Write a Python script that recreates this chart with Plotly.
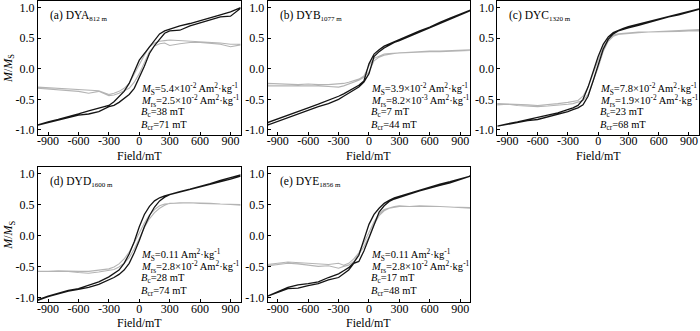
import plotly.graph_objects as go

# ---------------- data ----------------
FIELD_DESC = [1000, 900, 800, 700, 600, 500, 400, 300, 250, 200, 150, 100, 50, 0,
              -50, -100, -150, -200, -250, -300, -400, -500, -600, -700, -800, -900, -1000]
FIELD_ASC = FIELD_DESC[::-1]

# (a) DYA 812 m
A_BLACK_UP = [1.00, 0.93, 0.88, 0.83, 0.78, 0.74, 0.70, 0.65, 0.62, 0.57, 0.46, 0.36, 0.26, 0.14,
              -0.05, -0.24, -0.37, -0.46, -0.54, -0.60, -0.64, -0.69, -0.74, -0.79, -0.83, -0.87, -0.91]
A_BLACK_LO = [-0.92, -0.88, -0.84, -0.80, -0.76, -0.74, -0.70, -0.62, -0.60, -0.55, -0.49, -0.42, -0.32, -0.15,
              0.04, 0.25, 0.38, 0.48, 0.58, 0.62, 0.63, 0.70, 0.75, 0.80, 0.85, 0.86, 0.99]
A_GRAY_UP = [0.40, 0.40, 0.42, 0.43, 0.44, 0.44, 0.45, 0.47, 0.46, 0.45, 0.42, 0.36, 0.22, 0.06,
             -0.10, -0.24, -0.32, -0.37, -0.40, -0.42, -0.36, -0.35, -0.34, -0.33, -0.32, -0.31, -0.30]
A_GRAY_LO = [-0.32, -0.33, -0.34, -0.35, -0.37, -0.40, -0.37, -0.44, -0.43, -0.40, -0.36, -0.32, -0.22, -0.08,
             0.10, 0.28, 0.37, 0.41, 0.42, 0.38, 0.41, 0.43, 0.43, 0.42, 0.40, 0.36, 0.39]

# (b) DYB 1077 m
B_BLACK_UP = [0.96, 0.90, 0.83, 0.76, 0.68, 0.62, 0.55, 0.48, 0.45, 0.41, 0.37, 0.31, 0.24, 0.08,
              -0.20, -0.27, -0.32, -0.37, -0.41, -0.45, -0.52, -0.58, -0.64, -0.70, -0.76, -0.82, -0.88]
B_BLACK_LO = [-0.92, -0.86, -0.80, -0.74, -0.67, -0.62, -0.57, -0.50, -0.45, -0.40, -0.35, -0.30, -0.22, -0.08,
              0.20, 0.28, 0.34, 0.39, 0.43, 0.46, 0.53, 0.60, 0.67, 0.74, 0.81, 0.88, 0.95]
B_GRAY_UP = [0.31, 0.30, 0.30, 0.29, 0.29, 0.28, 0.28, 0.27, 0.26, 0.25, 0.24, 0.21, 0.17, 0.05,
             -0.12, -0.17, -0.20, -0.22, -0.24, -0.25, -0.26, -0.26, -0.25, -0.26, -0.25, -0.24, -0.24]
B_GRAY_LO = [-0.28, -0.28, -0.27, -0.27, -0.27, -0.28, -0.29, -0.30, -0.28, -0.25, -0.22, -0.19, -0.14, -0.05,
             0.13, 0.19, 0.22, 0.24, 0.25, 0.26, 0.27, 0.27, 0.28, 0.28, 0.29, 0.30, 0.30]

# (c) DYC 1320 m
C_BLACK_UP = [0.98, 0.94, 0.90, 0.86, 0.82, 0.78, 0.73, 0.69, 0.66, 0.63, 0.59, 0.52, 0.40, 0.20,
              -0.05, -0.30, -0.50, -0.60, -0.64, -0.67, -0.72, -0.76, -0.80, -0.84, -0.87, -0.90, -0.93]
C_BLACK_LO = [-0.94, -0.90, -0.88, -0.85, -0.83, -0.79, -0.75, -0.70, -0.67, -0.64, -0.59, -0.45, -0.20, 0.05,
              0.32, 0.48, 0.57, 0.62, 0.65, 0.67, 0.71, 0.76, 0.80, 0.85, 0.88, 0.92, 0.97]
C_GRAY_UP = [0.64, 0.63, 0.62, 0.61, 0.61, 0.60, 0.60, 0.59, 0.58, 0.57, 0.55, 0.48, 0.35, 0.15,
             -0.08, -0.30, -0.45, -0.52, -0.54, -0.55, -0.57, -0.59, -0.60, -0.59, -0.58, -0.58, -0.57]
C_GRAY_LO = [-0.59, -0.58, -0.60, -0.61, -0.62, -0.61, -0.60, -0.58, -0.57, -0.55, -0.52, -0.42, -0.20, 0.02,
             0.28, 0.45, 0.53, 0.56, 0.57, 0.58, 0.59, 0.60, 0.60, 0.61, 0.61, 0.62, 0.62]

# (d) DYD 1600 m
D_BLACK_UP = [0.98, 0.94, 0.89, 0.84, 0.79, 0.75, 0.71, 0.67, 0.64, 0.61, 0.56, 0.47, 0.34, 0.14,
              -0.10, -0.30, -0.45, -0.56, -0.62, -0.67, -0.75, -0.81, -0.86, -0.89, -0.93, -0.98, -1.04]
D_BLACK_LO = [-1.05, -0.99, -0.94, -0.90, -0.87, -0.84, -0.79, -0.72, -0.68, -0.63, -0.56, -0.45, -0.28, -0.08,
              0.14, 0.32, 0.46, 0.56, 0.62, 0.66, 0.70, 0.74, 0.78, 0.83, 0.87, 0.91, 0.96]
D_GRAY_UP = [0.50, 0.50, 0.51, 0.52, 0.53, 0.53, 0.53, 0.52, 0.51, 0.48, 0.42, 0.33, 0.20, 0.04,
             -0.12, -0.27, -0.38, -0.46, -0.51, -0.54, -0.56, -0.58, -0.58, -0.57, -0.57, -0.58, -0.58]
D_GRAY_LO = [-0.59, -0.58, -0.58, -0.58, -0.60, -0.61, -0.59, -0.57, -0.55, -0.51, -0.45, -0.36, -0.22, -0.05,
             0.13, 0.27, 0.37, 0.44, 0.49, 0.52, 0.53, 0.53, 0.52, 0.52, 0.51, 0.50, 0.49]

# (e) DYE 1856 m
E_BLACK_UP = [0.96, 0.91, 0.87, 0.83, 0.78, 0.74, 0.69, 0.64, 0.61, 0.57, 0.52, 0.44, 0.34, 0.18,
              -0.08, -0.32, -0.44, -0.52, -0.57, -0.62, -0.68, -0.75, -0.78, -0.80, -0.84, -0.91, -0.98]
E_BLACK_LO = [-0.98, -0.92, -0.86, -0.85, -0.81, -0.78, -0.72, -0.68, -0.62, -0.56, -0.45, -0.42, -0.25, -0.05,
              0.18, 0.38, 0.48, 0.55, 0.59, 0.62, 0.67, 0.72, 0.77, 0.81, 0.85, 0.90, 0.96]
E_GRAY_UP = [0.45, 0.45, 0.46, 0.47, 0.48, 0.48, 0.47, 0.48, 0.47, 0.45, 0.42, 0.35, 0.22, 0.05,
             -0.12, -0.28, -0.38, -0.45, -0.48, -0.45, -0.47, -0.46, -0.44, -0.43, -0.43, -0.45, -0.47]
E_GRAY_LO = [-0.49, -0.47, -0.45, -0.46, -0.48, -0.50, -0.49, -0.53, -0.50, -0.48, -0.42, -0.30, -0.18, -0.02,
             0.18, 0.32, 0.40, 0.44, 0.46, 0.47, 0.47, 0.47, 0.48, 0.47, 0.46, 0.45, 0.44]

PANEL_NAMES = ["(a) DYA", "(b) DYB", "(c) DYC", "(d) DYD", "(e) DYE"]
PANEL_DEPTHS = ["812 m", "1077 m", "1320 m", "1600 m", "1856 m"]
MS_TEXT = ["5.4×10<sup>-2</sup>", "3.9×10<sup>-2</sup>", "7.8×10<sup>-2</sup>", "0.11", "0.11"]
MRS_TEXT = ["2.5×10<sup>-2</sup>", "8.2×10<sup>-3</sup>", "1.9×10<sup>-2</sup>", "2.8×10<sup>-2</sup>", "2.8×10<sup>-2</sup>"]
BC_VALUES = [38, 7, 23, 28, 17]
BCR_VALUES = [71, 44, 68, 74, 48]

X_TICKS = [-900, -600, -300, 0, 300, 600, 900]
Y_TICKS = [-1.0, -0.5, 0.0, 0.5, 1.0]

PANELS = [
    (A_BLACK_UP, A_BLACK_LO, A_GRAY_UP, A_GRAY_LO),
    (B_BLACK_UP, B_BLACK_LO, B_GRAY_UP, B_GRAY_LO),
    (C_BLACK_UP, C_BLACK_LO, C_GRAY_UP, C_GRAY_LO),
    (D_BLACK_UP, D_BLACK_LO, D_GRAY_UP, D_GRAY_LO),
    (E_BLACK_UP, E_BLACK_LO, E_GRAY_UP, E_GRAY_LO),
]

# ---------------- layout ----------------
W, H = 700, 331
FONT = "Liberation Serif, Times New Roman, serif"
BLACK = "#151515"
GRAY = "#b4b4b4"

col_px = [(37, 240), (267, 470), (497, 699)]
row_px = [(0.5, 135), (168, 304)]

fig = go.Figure()
layout = dict(
    width=W, height=H,
    margin=dict(l=0, r=0, t=0, b=0),
    paper_bgcolor="white", plot_bgcolor="white",
    showlegend=False,
    font=dict(family=FONT, size=12, color="black"),
)

annotations = []
for i, (bu, bl, gu, gl) in enumerate(PANELS):
    r, c = divmod(i, 3)
    idx = "" if i == 0 else str(i + 1)
    xa, ya = "x" + idx, "y" + idx
    x0, x1 = col_px[c]
    y0, y1 = row_px[r]
    layout["xaxis" + idx] = dict(
        domain=[x0 / W, x1 / W], range=[-1000, 1000], anchor=ya,
        tickvals=X_TICKS, ticktext=[str(v) for v in X_TICKS],
        ticks="inside", ticklen=3, tickcolor="black", tickwidth=1,
        ticklabelstandoff=-5,
        showline=True, linecolor="black", linewidth=1, mirror=True,
        showgrid=False, zeroline=False, tickfont=dict(family=FONT, size=12),
    )
    layout["yaxis" + idx] = dict(
        domain=[1 - y1 / H, 1 - y0 / H], range=[-1.08, 1.1], anchor=xa,
        tickvals=Y_TICKS, ticktext=["%.1f" % v for v in Y_TICKS],
        ticks="inside", ticklen=3, tickcolor="black", tickwidth=1,
        showline=True, linecolor="black", linewidth=1, mirror=True,
        showgrid=False, zeroline=False, tickfont=dict(family=FONT, size=12),
    )
    # gray (corrected) loop, then black (raw) loop
    fig.add_trace(go.Scatter(x=FIELD_DESC + FIELD_ASC, y=gu + gl, mode="lines",
                             line=dict(color=GRAY, width=1.1), xaxis=xa, yaxis=ya,
                             hoverinfo="skip"))
    fig.add_trace(go.Scatter(x=FIELD_DESC + FIELD_ASC, y=bu + bl, mode="lines",
                             line=dict(color=BLACK, width=1.3), xaxis=xa, yaxis=ya,
                             hoverinfo="skip"))
    ph = y1 - y0
    # panel label
    annotations.append(dict(
        xref=xa + " domain", yref=ya + " domain", x=10 / 203, y=1 - 15 / ph,
        xanchor="left", yanchor="middle", showarrow=False,
        text=PANEL_NAMES[i] + "<sub><span style='font-size:7px'>" + PANEL_DEPTHS[i] + "</span></sub>",
        font=dict(family=FONT, size=11.5),
    ))
    lines = [
        "<i>M</i><sub>S</sub>=" + MS_TEXT[i] + " Am<sup>2</sup>·kg<sup>-1</sup>",
        "<i>M</i><sub>rs</sub>=" + MRS_TEXT[i] + " Am<sup>2</sup>·kg<sup>-1</sup>",
        "<i>B</i><sub>c</sub>=%d mT" % BC_VALUES[i],
        "<i>B</i><sub>cr</sub>=%d mT" % BCR_VALUES[i],
    ]
    for k, (t, yy) in enumerate(zip(lines, [88, 100, 112.5, 125])):
        annotations.append(dict(
            xref=xa + " domain", yref=ya + " domain", x=0.5, y=1 - yy / ph,
            xanchor="left", yanchor="middle", showarrow=False, text=t,
            font=dict(family=FONT, size=10.5),
        ))
    # x title
    annotations.append(dict(
        xref="paper", yref="paper", x=(x0 + x1) / 2 / W, y=1 - (y1 + 21) / H,
        xanchor="center", yanchor="middle", showarrow=False, text="Field/mT",
        font=dict(family=FONT, size=12),
    ))

# y titles
for r in range(2):
    y0, y1 = row_px[r]
    annotations.append(dict(
        xref="paper", yref="paper", x=8 / W, y=1 - (y0 + y1) / 2 / H,
        xanchor="center", yanchor="middle", showarrow=False, textangle=-90,
        text="<i>M</i>/<i>M</i><sub>S</sub>", font=dict(family=FONT, size=12),
    ))

layout["annotations"] = annotations
fig.update_layout(**layout)
fig.write_html(
    "out.html",
    config={"displayModeBar": False, "responsive": False},
    post_script="document.body.style.margin='0';document.body.style.overflow='hidden';",
)
